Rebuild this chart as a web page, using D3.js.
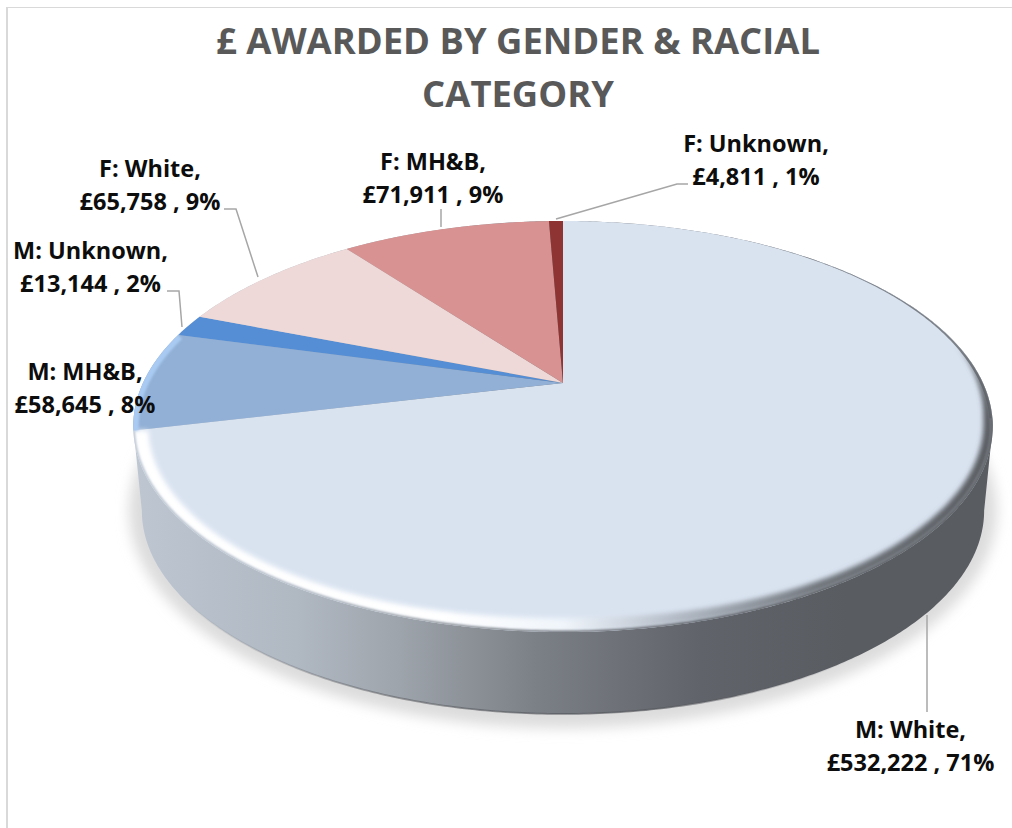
<!DOCTYPE html>
<html>
<head>
<meta charset="utf-8">
<script src="https://cdn.jsdelivr.net/npm/d3@7/dist/d3.min.js"></script>
<style>
  html, body { margin: 0; padding: 0; background: #fff; }
  svg { display: block; }
  text { font-family: "Open Sans", "Noto Sans", sans-serif; }
</style>
</head>
<body>
<svg id="chart" width="1012" height="828"></svg>
<script>
// Award totals by gender and racial category
const categories = ["M: White", "M: MH&B", "M: Unknown", "F: White", "F: MH&B", "F: Unknown"];
const amounts = [532222, 58645, 13144, 65758, 71911, 4811];
const percentLabels = ["71%", "8%", "2%", "9%", "9%", "1%"];
const sliceColors = ["#d9e3f0", "#92b0d5", "#558ed5", "#eed9d8", "#d79291", "#8e3432"];
const titleLines = ["£ AWARDED BY GENDER & RACIAL", "CATEGORY"];

const svg = d3.select("#chart");
const defs = svg.append("defs");

// Tilted-disc projection: the unit disc is seen in perspective, so the hub
// sits above the centre of the drawn ellipse.
const hubX = 563, hubY = 383, radiusX = 420, radiusY = 196.3, tilt = 0.2117;
const ellipseCy = 426.5, wallDrop = 84, wallShrink = 0.98;
const widestAngle = Math.acos(-tilt);

function topPoint(angle) {
  const u = Math.sin(angle), v = -Math.cos(angle), s = 1 / (1 - tilt * v);
  return [hubX + radiusX * u * s, hubY + radiusY * v * s];
}
function bottomPoint(angle) {
  const [x, y] = topPoint(angle);
  return [hubX + (x - hubX) * wallShrink, ellipseCy + wallDrop + (y - ellipseCy) * 0.99];
}
function arcPoints(project, a0, a1) {
  const n = Math.max(2, Math.ceil(Math.abs(a1 - a0) / 0.01));
  return d3.range(n + 1).map(i => project(a0 + (a1 - a0) * i / n));
}
const line = d3.line();
const rad = d3.scaleLinear().domain([0, 180]).range([0, Math.PI]);

const pie = d3.pie().sort(null).value(d => d).startAngle(0).endAngle(2 * Math.PI);
const slices = pie(amounts);

// Outline of the whole disc: upper rim of the top face, then lower rim of the base
const wallOutline = [
  ...arcPoints(topPoint, -widestAngle, widestAngle),
  ...arcPoints(bottomPoint, widestAngle, 2 * Math.PI - widestAngle)
];

// A band along the top rim whose inward width depends on the angle
function rimBand(a0, a1, widthAt) {
  const outer = arcPoints(topPoint, a0, a1);
  const inner = outer.map((p, i) => {
    const a = a0 + (a1 - a0) * i / (outer.length - 1);
    const dx = hubX - p[0], dy = ellipseCy - p[1], len = Math.hypot(dx, dy);
    const w = widthAt(a * 180 / Math.PI);
    return [p[0] + dx / len * w, p[1] + dy / len * w];
  });
  return line([...outer, ...inner.reverse()]) + "Z";
}

// Gradients and filters
function hGradient(id, stops) {
  const g = defs.append("linearGradient").attr("id", id)
    .attr("gradientUnits", "userSpaceOnUse").attr("x1", 134).attr("x2", 993).attr("y1", 0).attr("y2", 0);
  stops.forEach(([o, c, a]) => g.append("stop").attr("offset", o).attr("stop-color", c).attr("stop-opacity", a === undefined ? 1 : a));
}
hGradient("wallGrad", [[0, "#bdc6d1"], [0.19, "#b0b8c2"], [0.31, "#9ea4ab"], [0.47, "#7b7f86"], [0.66, "#606369"], [0.83, "#595c61"], [1, "#595c61"]]);
hGradient("rimGrad", [[0, "#ffffff"], [0.36, "#ffffff"], [0.5, "#f0f5fb"], [0.62, "#b8c0cb"], [0.8, "#70757b"], [1, "#585b60"]]);
hGradient("baseEdge", [[0.05, "#55585d", 0], [0.3, "#55585d", 0.55], [0.6, "#55585d", 0.7], [0.85, "#55585d", 0]]);

function blurFilter(id, sd) {
  defs.append("filter").attr("id", id).attr("x", "-10%").attr("y", "-10%").attr("width", "120%").attr("height", "120%")
    .append("feGaussianBlur").attr("stdDeviation", sd);
}
blurFilter("soft", 6);
blurFilter("rimBlur", 2.6);
blurFilter("edgeBlur", 1);
blurFilter("fineBlur", 0.7);

// Chart-area frame
svg.append("line").attr("x1", 7).attr("x2", 7).attr("y1", 7).attr("y2", 828)
  .attr("stroke", "#d9d9d9").attr("stroke-width", 2);
svg.append("line").attr("x1", 6).attr("x2", 1012).attr("y1", 7.5).attr("y2", 7.5)
  .attr("stroke", "#d9d9d9").attr("stroke-width", 1);

// Soft shadow under the disc
svg.append("path")
  .attr("d", line(arcPoints(bottomPoint, 0, 2 * Math.PI)) + "Z")
  .attr("transform", `translate(${hubX},${ellipseCy + wallDrop}) scale(1.03,1.07) translate(${-hubX},${-(ellipseCy + wallDrop)})`)
  .attr("fill", "#dcdcdc")
  .attr("filter", "url(#soft)");

// Side wall and its darker lower edge
svg.append("path").attr("d", line(wallOutline) + "Z").attr("fill", "url(#wallGrad)");
svg.append("path")
  .attr("d", line(arcPoints(bottomPoint, rad(125), rad(235))))
  .attr("fill", "none").attr("stroke", "url(#baseEdge)").attr("stroke-width", 1.8)
  .attr("filter", "url(#fineBlur)");

// Slices on the top face
svg.append("g").selectAll("path").data(slices).join("path")
  .attr("d", d => line([[hubX, hubY], ...arcPoints(topPoint, d.startAngle, d.endAngle)]) + "Z")
  .attr("fill", (d, i) => sliceColors[i]);

// Bevel on the top face, clipped to the disc
defs.append("clipPath").attr("id", "rimClip")
  .append("path").attr("d", line(arcPoints(topPoint, 0, 2 * Math.PI)) + "Z");
const bevel = svg.append("g").attr("clip-path", "url(#rimClip)");
const maxAngle = slices[0].endAngle;

// thin grey line over the far-right rim
const thinWidth = d3.scaleLinear().domain([30, 80, 100]).range([0, 2.6, 3]).clamp(true);
bevel.append("path").attr("d", rimBand(rad(30), rad(100), thinWidth))
  .attr("fill", "#7d8289").attr("filter", "url(#fineBlur)");

// broad bevel round the near side of the largest slice
const bandWidth = d3.scaleLinear().domain([78, 100, 130, 250]).range([0, 9, 13, 15]).clamp(true);
bevel.append("path").attr("d", rimBand(rad(78), maxAngle, bandWidth))
  .attr("fill", "url(#rimGrad)").attr("filter", "url(#rimBlur)");

// wall colour bleeding into the outer edge of the bevel
bevel.append("path").attr("d", line(arcPoints(topPoint, rad(100), maxAngle)))
  .attr("fill", "none").attr("stroke", "url(#wallGrad)").attr("stroke-width", 3)
  .attr("filter", "url(#edgeBlur)");

// lighter rim on the M: MH&B slice
bevel.append("path")
  .attr("d", line(arcPoints(topPoint, slices[1].startAngle, slices[1].endAngle)))
  .attr("fill", "none").attr("stroke", "#a9caf2").attr("stroke-width", 11)
  .attr("filter", "url(#edgeBlur)");

// Title
svg.append("g").selectAll("text").data(titleLines).join("text")
  .attr("x", 518).attr("y", (d, i) => 54 + i * 53)
  .attr("text-anchor", "middle")
  .attr("font-size", 36.4).attr("font-weight", 700).attr("fill", "#595959")
  .text(d => d);

// Data labels and leader lines
const fmt = d3.format(",");
const labelCentres = [[910.5, 738], [85, 380], [90.5, 259], [150, 177], [433, 170], [756, 152]];
const leaders = [
  [[927, 615], [927, 712]],
  [[167, 291], [179, 291], [182, 327]],
  [[224, 209], [236, 209], [258, 277]],
  [[441, 209], [441, 227]],
  [[556, 219], [677, 184], [688, 184]]
];
svg.append("g").selectAll("path").data(leaders).join("path")
  .attr("d", d => line(d)).attr("fill", "none").attr("stroke", "#a6a6a6").attr("stroke-width", 1.5);

const labels = svg.append("g").selectAll("text").data(slices).join("text")
  .attr("text-anchor", "middle").attr("font-size", 23.5).attr("font-weight", 700).attr("fill", "#0d0d0d");
labels.append("tspan").attr("x", (d, i) => labelCentres[i][0]).attr("y", (d, i) => labelCentres[i][1])
  .text((d, i) => categories[i] + ",");
labels.append("tspan").attr("x", (d, i) => labelCentres[i][0]).attr("y", (d, i) => labelCentres[i][1] + 33)
  .text((d, i) => "£" + fmt(d.value) + " , " + percentLabels[i]);
</script>
</body>
</html>
